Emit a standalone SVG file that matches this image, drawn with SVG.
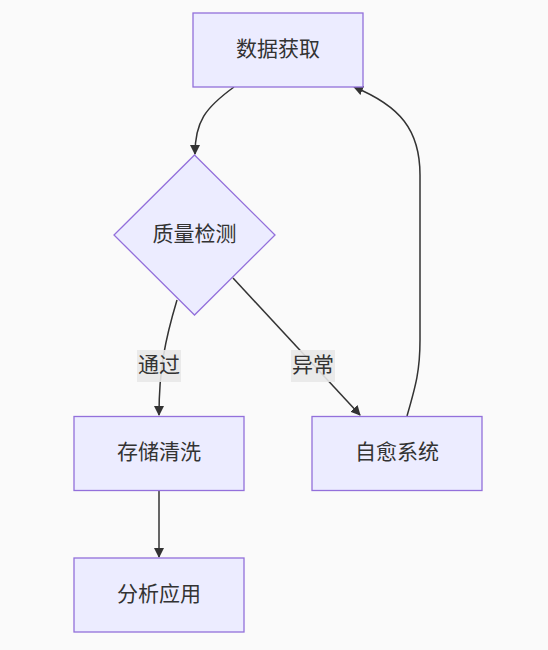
<svg xmlns="http://www.w3.org/2000/svg" width="548" height="650" viewBox="0 0 548 650">
<style>
.node rect, .node polygon { fill: #ECECFF; stroke: #9370DB; stroke-width: 1.3; }
.lbl { font-family: "Noto Sans CJK SC", "Liberation Sans", sans-serif; font-size: 21px; fill: #333; text-anchor: middle; dominant-baseline: central; }
.edge { fill: none; stroke: #333; stroke-width: 1.5; }
.elbg { fill: #E8E8E8; fill-opacity: 0.9; }
</style>
<defs>
<marker id="arrow" viewBox="0 0 10 10" refX="9" refY="5" markerWidth="10" markerHeight="10" markerUnits="userSpaceOnUse" orient="auto">
<path d="M0,0 L10,5 L0,10 z" fill="#333"/>
</marker>
</defs>
<rect width="548" height="650" fill="#FAFAFA"/>
<g id="connectors">
<path class="edge" d="M234,87 C205,108 195,122 195,154" marker-end="url(#arrow)"/>
<path class="edge" d="M177,300 C165,340 159,370 159,415" marker-end="url(#arrow)"/>
<path class="edge" d="M233,278 L360,415" marker-end="url(#arrow)"/>
<path class="edge" d="M407,416 C416,385 420,370 420,340 L420,175 C420,130 400,106 354,87" marker-end="url(#arrow)"/>
<path class="edge" d="M159,490 L159,557" marker-end="url(#arrow)"/>
</g>
<g id="edge-labels">
<g id="label-pass"><rect class="elbg" x="137" y="350" width="44" height="32"/><text class="lbl" x="159" y="363">通过</text></g>
<g id="label-abnormal"><rect class="elbg" x="291" y="350" width="44" height="32"/><text class="lbl" x="313" y="363">异常</text></g>
</g>
<g id="node-acquire" class="node"><rect x="193" y="13" width="170" height="74"/><text class="lbl" x="278" y="47">数据获取</text></g>
<g id="node-check" class="node"><polygon points="194.5,155 275,235 194.5,315 114,235"/><text class="lbl" x="194.5" y="232">质量检测</text></g>
<g id="node-store" class="node"><rect x="74" y="416.5" width="170" height="74"/><text class="lbl" x="159" y="450">存储清洗</text></g>
<g id="node-heal" class="node"><rect x="312" y="416.5" width="170" height="74"/><text class="lbl" x="397" y="450">自愈系统</text></g>
<g id="node-analyze" class="node"><rect x="74" y="558" width="170" height="74"/><text class="lbl" x="159" y="592">分析应用</text></g>
</svg>
